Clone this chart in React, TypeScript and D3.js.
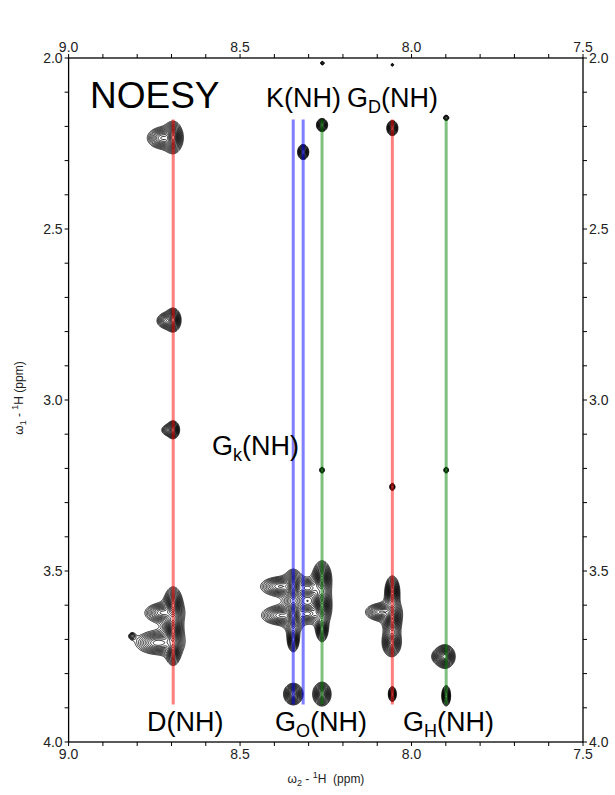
import React, { useMemo } from "react";
import * as d3 from "d3";

// spectrum window (ppm)
const w2Domain: [number, number] = [9.0, 7.5];
const w1Domain: [number, number] = [2.0, 4.0];
const w2Labels = [9.0, 8.5, 8.0, 7.5];
const w1Labels = [2.0, 2.5, 3.0, 3.5, 4.0];

// [w2 ppm, w1 ppm, intensity, half-width w2, half-width w1]
type Peak = [number, number, number, number, number];

const peaksD: Peak[] = [
  [8.695, 2.232, 1.0, 0.014, 0.024],
  [8.728, 2.234, 0.3, 0.035, 0.025],
  [8.695, 2.766, 0.8, 0.012, 0.019],
  [8.715, 2.768, 0.25, 0.024, 0.019],
  [8.695, 3.087, 0.6, 0.011, 0.016],
  [8.71, 3.088, 0.15, 0.02, 0.015],
  [8.695, 3.6, 1.0, 0.014, 0.028],
  [8.695, 3.675, 1.0, 0.014, 0.03],
  [8.695, 3.735, 0.6, 0.012, 0.024],
  [8.728, 3.622, 0.3, 0.04, 0.022],
  [8.74, 3.71, 0.35, 0.05, 0.026],
  [8.815, 3.69, 0.12, 0.01, 0.01],
];

const peaksK: Peak[] = [
  [8.345, 3.545, 0.9, 0.014, 0.026],
  [8.345, 3.63, 0.9, 0.014, 0.026],
  [8.345, 3.7, 0.5, 0.011, 0.024],
  [8.385, 3.545, 0.3, 0.045, 0.022],
  [8.382, 3.63, 0.3, 0.045, 0.022],
  [8.303, 3.55, 0.25, 0.03, 0.02],
  [8.303, 3.625, 0.25, 0.03, 0.02],
  [8.345, 3.86, 0.7, 0.017, 0.019],
  [8.316, 2.275, 0.5, 0.011, 0.015],
];

const peaksGO: Peak[] = [
  [8.261, 3.52, 1.0, 0.014, 0.026],
  [8.261, 3.6, 1.0, 0.014, 0.028],
  [8.261, 3.67, 0.5, 0.011, 0.024],
  [8.261, 3.86, 0.7, 0.016, 0.021],
  [8.261, 2.196, 0.5, 0.011, 0.013],
  [8.261, 3.205, 0.15, 0.008, 0.01],
  [8.26, 2.015, 0.12, 0.007, 0.007],
];

const peaksGD: Peak[] = [
  [8.056, 2.205, 0.5, 0.011, 0.015],
  [8.056, 3.254, 0.18, 0.008, 0.011],
  [8.056, 3.56, 0.8, 0.012, 0.026],
  [8.056, 3.64, 0.9, 0.014, 0.028],
  [8.058, 3.71, 0.7, 0.016, 0.024],
  [8.09, 3.62, 0.3, 0.036, 0.02],
  [8.056, 3.86, 0.35, 0.009, 0.017],
  [8.056, 2.02, 0.1, 0.006, 0.006],
];

const peaksGH: Peak[] = [
  [7.899, 2.175, 0.15, 0.009, 0.009],
  [7.899, 3.205, 0.15, 0.008, 0.01],
  [7.902, 3.75, 0.8, 0.016, 0.019],
  [7.915, 3.75, 0.25, 0.02, 0.016],
  [7.899, 3.865, 0.45, 0.009, 0.021],
];

// assignment strips (w2 ppm)
const strips = [
  { ppm: 8.695, color: "red" },
  { ppm: 8.345, color: "blue" },
  { ppm: 8.316, color: "blue" },
  { ppm: 8.261, color: "green" },
  { ppm: 8.056, color: "red" },
  { ppm: 7.899, color: "green" },
];
const stripTop = 2.18;
const stripBottom = 3.89;

const stripColors: Record<string, string> = { red: "#ff0000", blue: "#0000ff", green: "#008000" };

const allPeaks = [...peaksD, ...peaksK, ...peaksGO, ...peaksGD, ...peaksGH];

export default function App() {
  const x = d3.scaleLinear().domain(w2Domain).range([68.6, 583]);
  const y = d3.scaleLinear().domain(w1Domain).range([58, 742]);
  const [x0, x1] = x.range();
  const [y0, y1] = y.range();

  const contourPaths = useMemo(() => {
    const nx = Math.ceil(x1 - x0);
    const ny = Math.ceil(y1 - y0);
    const values = new Float64Array(nx * ny);
    // squared lorentzian line shape
    allPeaks.forEach(([pw2, pw1, a, hw2, hw1]) => {
      const cx = x(pw2) - x0;
      const cy = y(pw1) - y0;
      const gx = Math.abs(x(pw2 + hw2) - x(pw2));
      const gy = Math.abs(y(pw1 + hw1) - y(pw1));
      const r = 60;
      const i0 = Math.max(0, Math.floor(cx - r)), i1 = Math.min(nx, Math.ceil(cx + r));
      const j0 = Math.max(0, Math.floor(cy - r)), j1 = Math.min(ny, Math.ceil(cy + r));
      for (let j = j0; j < j1; j++) {
        const dy = (j + 0.5 - cy) / gy;
        for (let i = i0; i < i1; i++) {
          const dx = (i + 0.5 - cx) / gx;
          const q = 1 + dx * dx + dy * dy;
          values[j * nx + i] += a / (q * q);
        }
      }
    });
    const thresholds = d3.range(22).map((k) => 0.05 * Math.pow(1.2, k));
    const contours = d3.contours().size([nx, ny]).thresholds(thresholds)(values as unknown as number[]);
    const path = d3.geoPath();
    return contours.map((c) => path(c) || "");
  }, []);

  const fmt = d3.format(".1f");
  const minorX = d3.range(0, 16).map((i) => 9.0 - i * 0.1);
  const minorY = d3.range(0, 21).map((i) => 2.0 + i * 0.1);
  const tick = 4;
  const labelFont = "Liberation Sans, Arial, sans-serif";

  return (
    <svg
      width={615}
      height={795}
      style={{ position: "absolute", left: 0, top: 0, background: "#fff" }}
      fontFamily={labelFont}
    >
      <defs>
        <clipPath id="plotClip">
          <rect x={x0} y={y0} width={x1 - x0} height={y1 - y0} />
        </clipPath>
      </defs>

      {/* contours */}
      <g clipPath="url(#plotClip)">
        <g transform={`translate(${x0},${y0})`}>
          {contourPaths.map((d, i) => (
            <path key={i} d={d} fill="none" stroke="#000" strokeWidth={0.8} />
          ))}
        </g>
        {strips.map((s, i) => (
          <line
            key={i}
            x1={x(s.ppm)}
            x2={x(s.ppm)}
            y1={y(stripTop)}
            y2={y(stripBottom)}
            stroke={stripColors[s.color]}
            strokeOpacity={0.5}
            strokeWidth={3}
          />
        ))}
      </g>

      {/* frame */}
      <rect x={x0} y={y0} width={x1 - x0} height={y1 - y0} fill="none" stroke="#000" strokeWidth={1.3} />

      {/* ticks */}
      {minorX.map((v, i) => (
        <g key={"tx" + i} stroke="#000" strokeWidth={1}>
          <line x1={x(v)} x2={x(v)} y1={y0} y2={y0 - tick} />
          <line x1={x(v)} x2={x(v)} y1={y1} y2={y1 + tick} />
        </g>
      ))}
      {minorY.map((v, i) => (
        <g key={"ty" + i} stroke="#000" strokeWidth={1}>
          <line x1={x0} x2={x0 - tick} y1={y(v)} y2={y(v)} />
          <line x1={x1} x2={x1 + tick} y1={y(v)} y2={y(v)} />
        </g>
      ))}

      {/* tick labels */}
      <g fontSize={14} fill="#222">
        {w2Labels.map((v) => (
          <g key={"lx" + v}>
            <text x={x(v)} y={y0 - 6} textAnchor="middle">{fmt(v)}</text>
            <text x={x(v)} y={y1 + 17} textAnchor="middle">{fmt(v)}</text>
          </g>
        ))}
        {w1Labels.map((v) => (
          <g key={"ly" + v}>
            <text x={x0 - 6} y={y(v) + 5} textAnchor="end">{fmt(v)}</text>
            <text x={x1 + 6} y={y(v) + 5} textAnchor="start">{fmt(v)}</text>
          </g>
        ))}
      </g>

      {/* axis titles */}
      <text x={326} y={783} textAnchor="middle" fontSize={12} fill="#222">
        ω<tspan dy={3} fontSize={9}>2</tspan>
        <tspan dy={-3}> - </tspan>
        <tspan dy={-5} fontSize={9}>1</tspan>
        <tspan dy={5}>H{"\u00a0\u00a0"}(ppm)</tspan>
      </text>
      <text transform="translate(23,398) rotate(-90)" textAnchor="middle" fontSize={12} fill="#222">
        ω<tspan dy={3} fontSize={9}>1</tspan>
        <tspan dy={-3}> - </tspan>
        <tspan dy={-5} fontSize={9}>1</tspan>
        <tspan dy={5}>H (ppm)</tspan>
      </text>

      {/* assignments */}
      <text x={90} y={108} fontSize={37}>NOESY</text>
      <g fontSize={27}>
        <text x={266} y={107}>K(NH)</text>
        <text x={347} y={107}>
          G<tspan dy={6} fontSize={18}>D</tspan>
          <tspan dy={-6}>(NH)</tspan>
        </text>
        <text x={212} y={455}>
          G<tspan dy={6} fontSize={18}>k</tspan>
          <tspan dy={-6}>(NH)</tspan>
        </text>
        <text x={147} y={731}>D(NH)</text>
        <text x={275} y={731}>
          G<tspan dy={6} fontSize={18}>O</tspan>
          <tspan dy={-6}>(NH)</tspan>
        </text>
        <text x={403} y={731}>
          G<tspan dy={6} fontSize={18}>H</tspan>
          <tspan dy={-6}>(NH)</tspan>
        </text>
      </g>
    </svg>
  );
}
